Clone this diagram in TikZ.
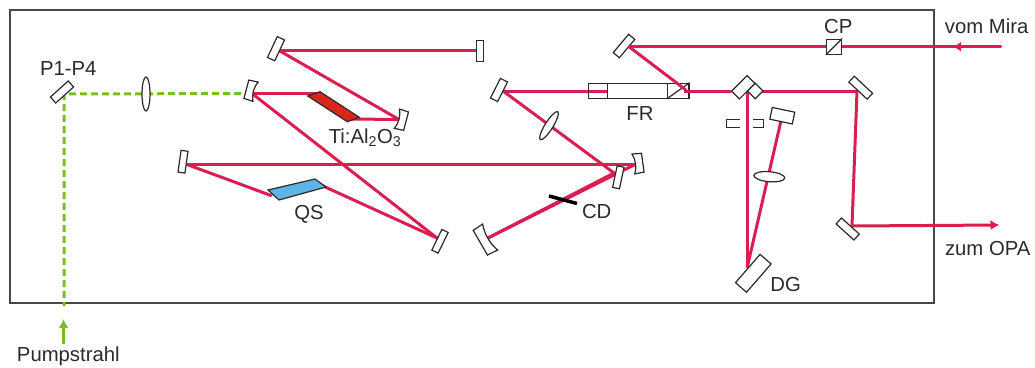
\documentclass[tikz,border=0pt]{standalone}
\usepackage{fontspec}
\setmainfont{Liberation Sans}
\usetikzlibrary{arrows.meta,shapes.geometric}

\definecolor{beamred}{HTML}{D91E50}
\definecolor{pumpgreen}{HTML}{78BE20}
\definecolor{tisred}{HTML}{D8261C}
\definecolor{qsblue}{HTML}{5FB4E6}
\definecolor{framegray}{HTML}{484848}
\definecolor{inkgray}{HTML}{2A2A2A}

\tikzset{
    optic/.style={draw=inkgray, line width=1.2pt, fill=white, inner sep=0pt},
    beam/.style={draw=beamred, line width=3pt, line cap=round},
    pump/.style={draw=pumpgreen, line width=3pt},
    lab/.style={font=\fontsize{20.3}{23}\selectfont, text=inkgray, inner sep=0pt},
    cmirror/.pic={
        \draw[optic] (-4.5,-9.5) -- (5,-10) .. controls (2,-4) and (2,4) .. (5,10) -- (-4.5,9.5) -- cycle;
    }
}

\begin{document}
\begin{tikzpicture}[x=1pt,y=-1pt]
    \useasboundingbox (0,0) rectangle (1035,367);

    % Frame
    \draw[framegray, line width=2pt] (10,10) rectangle (933.5,303);

    % Beam points
    \foreach \n/\x/\y in {hP/64/94, hM/252/93.5, hTiA/318/93.5, hTiB/350/119, hR/399/119.5, hTop/279/50.5,
        hEnd/477/50.5, hBot/437/238, hQr/323/186, hQl/271/195.5, hLeft/187/164.5, hRc/635/164.5,
        hCm/488/238, hMid/614/173, hF/503/91, hFRm/640/91, hFRr/685/89.3, hRoofL/731/91, hRoofR/763/91,
        hK/857/91, hL/852/226, hCP/629/46.7, hV/747.3/92, hDG/747.3/267, hRetro/780.7/122,
        miraIn/1000.5/46.7, miraTip/953/46.7, opaOut/999.5/225, pumpIn/63.5/344, pumpTip/63.5/319, pumpEnd/64/306} {
        \coordinate (\n) at (\x,\y);
    }

    % Pump beam
    \draw[pump, dash pattern=on 7pt off 4pt] (hM) -- (hP) -- (pumpEnd);
    \draw[pump, -{Latex[length=9pt,width=10pt]}] (pumpIn) -- (pumpTip);

    % Beams
    \foreach \a/\b in {hM/hTiA, hTiB/hR, hTop/hEnd, hTop/hR, hM/hBot, hBot/hQr, hQl/hLeft, hLeft/hRc,
        hRc/hCm, hMid/hCm, hMid/hF, hF/hFRm, hK/hL, hV/hDG, hDG/hRetro, hRoofR/hK} {
        \draw[beam] (\a) -- (\b);
    }
    \draw[beam] (miraIn) -- (hCP);
    \draw[beam, -{Latex[length=8pt,width=10pt]}] (miraIn) -- (miraTip);
    \draw[beam, -{Latex[length=9pt,width=10pt]}] (hL) -- (opaOut);

    % Crystals
    \draw[optic, fill=tisred] (307.7,96) -- (320,91.7) -- (359.3,117.3) -- (347.3,121.7) -- cycle;
    \draw[optic, fill=qsblue] (268,190) -- (315,179) -- (326,187) -- (279,200) -- cycle;

    % Plane mirrors
    \foreach \n/\x/\y/\w/\h/\a in {mP/62/92/24/8/42, mTop/276/48.7/23/8/65, mEnd/479.7/50.7/21/7/90,
        mLeft/183/161.7/22/7/82, mBot/440/241.3/23/7/64, mFold/618.3/177.3/22/7/78, mF/499/90/22/8/63,
        mCP/624/46/24/8/50, mK/860.7/87.7/25/8/-43, mL/847.7/229/24/8/-42, mRetro/782.3/115.7/23/12/-12,
        mDG/753.3/273.3/37.5/14.6/49, roofA/743.3/87.3/22/11/45, roofB/755.3/91/11/11/45} {
        \node[optic, minimum width=\w pt, minimum height=\h pt, rotate=\a] (\n) at (\x,\y) {};
    }

    % Curved mirrors
    \pic[rotate=-15] (cA) at (250.7,90.4) {cmirror};
    \pic[rotate=165] (cB) at (401.7,120) {cmirror};
    \pic[rotate=188] (cC) at (638.3,163.3) {cmirror};
    \pic[rotate=30, xscale=1.2, yscale=1.5] (cD) at (485,240) {cmirror};

    % Lenses
    \foreach \n/\x/\y/\w/\h/\a in {lP/146/94/8/34/0, lF/549/125.7/33/8/58, lV/769.3/176.7/31/10/-5} {
        \node[optic, ellipse, minimum width=\w pt, minimum height=\h pt, rotate=\a] (\n) at (\x,\y) {};
    }

    % Faraday rotator
    \node[optic, fill=none, minimum width=19.4pt, minimum height=15pt] (frLeft) at (598,90.8) {};
    \node[optic, minimum width=59.6pt, minimum height=15pt] (frMid) at (637.5,90.8) {};
    \node[optic, minimum width=21.7pt, minimum height=15pt] (frRight) at (678.2,90.8) {};
    \draw[draw=inkgray, line width=1.2pt] (frRight.south west) -- (frRight.north east);
    \draw[beam] (hCP) -- (hFRr);
    \draw[beam] (hFRr) -- (hFRr |- hF) -- (hRoofL);

    % Cube polarizer
    \node[optic, minimum size=15pt] (cube) at (834,46.7) {};
    \draw[draw=inkgray, line width=1.2pt] (cube.south west) -- (cube.north east);

    % Iris
    \draw[draw=inkgray, line width=1.2pt] (740,119.3) -- (726.7,119.3) -- (726.7,127.3) -- (740,127.3);
    \draw[draw=inkgray, line width=1.2pt] (753.3,119.3) -- (763.3,119.3) -- (763.3,127.3) -- (753.3,127.3);

    % Chopper blade
    \draw[black, line width=3.5pt] (549,196) -- (577,203.5);

    % Labels
    \node[lab] (lbP) at (68.3,68.3) {P1-P4};
    \node[lab] (lbTi) at (365,138) {Ti:Al\textsubscript{2}O\textsubscript{3}};
    \node[lab] (lbQS) at (309,214) {QS};
    \node[lab] (lbCD) at (596.7,211.7) {CD};
    \node[lab] (lbFR) at (640,113.3) {FR};
    \node[lab] (lbDG) at (785.7,284.3) {DG};
    \node[lab] (lbCP) at (838.3,26.7) {CP};
    \node[lab] (lbMira) at (986.7,26.7) {vom Mira};
    \node[lab] (lbOPA) at (987.7,248.3) {zum OPA};
    \node[lab] (lbPump) at (68.3,356.7) {Pumpstrahl};
\end{tikzpicture}
\end{document}
